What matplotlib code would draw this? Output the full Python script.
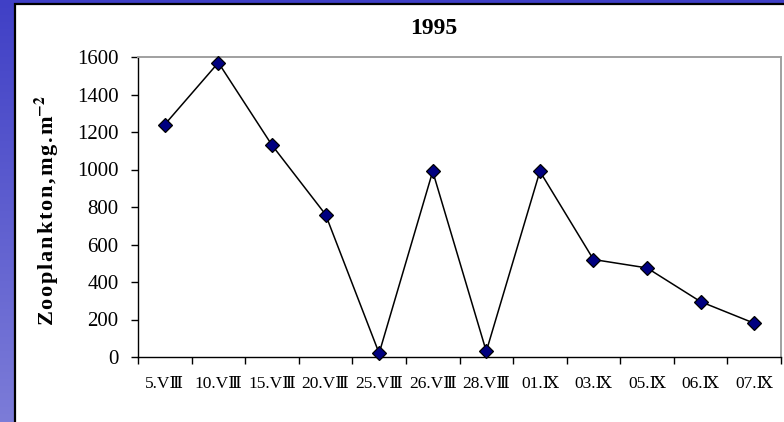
import numpy as np
import matplotlib
matplotlib.use("Agg")
import matplotlib.pyplot as plt
from matplotlib.patches import Rectangle

plt.rcParams["font.family"] = ["Liberation Serif", "DejaVu Serif"]
plt.rcParams["mathtext.fontset"] = "stix"

dates = ["5.V\u2162", "10.V\u2162", "15.V\u2162", "20.V\u2162", "25.V\u2162",
         "26.V\u2162", "28.V\u2162", "01.\u2168", "03.\u2168", "05.\u2168",
         "06.\u2168", "07.\u2168"]
biomass = [1240, 1570, 1130, 760, 20, 990, 30, 990, 520, 475, 295, 180]
y_ticks = [0, 200, 400, 600, 800, 1000, 1200, 1400, 1600]
y_title = "Zooplankton,mg.m"

fig = plt.figure(figsize=(7.84, 4.22), dpi=100)

# slide background: vertical blue gradient behind a white chart panel
bg = fig.add_axes([0, 0, 1, 1], zorder=-10)
grad = np.linspace(0, 1, 256).reshape(-1, 1)
cmap = matplotlib.colors.LinearSegmentedColormap.from_list("slide", ["#4040c6", "#7c7cd8"])
bg.imshow(grad, aspect="auto", cmap=cmap, extent=[0, 1, 0, 1], origin="upper")
bg.set_xlim(0, 1); bg.set_ylim(0, 1)
bg.axis("off")
px_x, px_y = 1 / 784, 1 / 422
bg.add_patch(Rectangle((14.5 * px_x, -0.01), 1.0, 1 - 4 * px_y + 0.01,
                       facecolor="white", edgecolor="black", linewidth=1.6))

ax = fig.add_axes([138 / 784, 65 / 422, 643 / 784, 300 / 422])
x = np.arange(len(dates))
ax.plot(x, biomass, color="black", linewidth=1.1, marker="D", markersize=7,
        markerfacecolor="#000080", markeredgecolor="black", markeredgewidth=0.9,
        clip_on=False, zorder=3)

ax.set_xlim(-0.5, len(dates) - 0.5)
ax.set_ylim(0, 1600)
ax.set_yticks(y_ticks)
ax.set_yticklabels([str(v) for v in y_ticks], fontsize=15)
ax.set_xticks(x)
ax.set_xticklabels(dates, fontsize=12.5)
ax.set_xticks(np.arange(len(dates) + 1) - 0.5, minor=True)
ax.tick_params(axis="x", which="major", length=0, pad=14)
ax.tick_params(axis="x", which="minor", length=5, width=1, direction="out")
ax.tick_params(axis="y", length=5, width=1, direction="out", pad=9)

for side in ("top", "right"):
    ax.spines[side].set_color("#a0a0a0")
    ax.spines[side].set_linewidth(1.4)
for side in ("left", "bottom"):
    ax.spines[side].set_color("black")
    ax.spines[side].set_linewidth(1.0)

fig.text(434 / 784, 1 - 29 / 422, "1995", ha="center", va="center",
         fontsize=17, fontweight="bold")
# letters spread out with hair spaces, as the axis title is typeset loosely
spaced = "\u200a".join(y_title)
fig.text(47 / 784, 1 - 210 / 422, spaced + r"$^{\mathbf{-2}}$", rotation=90,
         ha="center", va="center", fontsize=16, fontweight="bold")

fig.savefig("out.png", dpi=100)
